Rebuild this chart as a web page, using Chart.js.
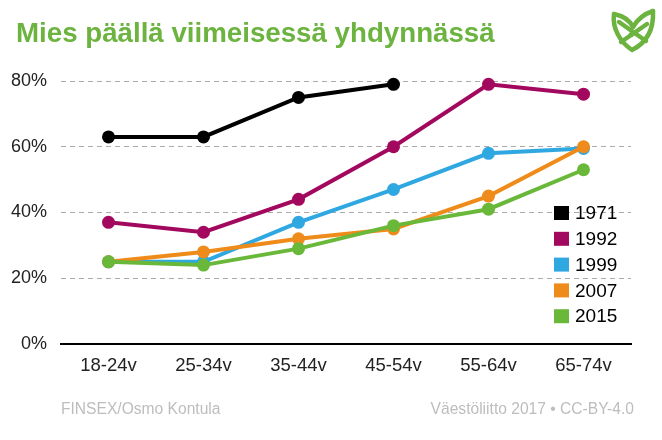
<!DOCTYPE html>
<html>
<head>
<meta charset="utf-8">
<script src="https://cdn.jsdelivr.net/npm/chart.js@4"></script>
<style>
  html, body { margin:0; padding:0; background:#fff; }
  #wrap { position:relative; width:662px; height:440px; overflow:hidden; font-family:"Liberation Sans", Arial, sans-serif; }
  #chart { position:absolute; left:0; top:0; }
  #title { position:absolute; left:16px; top:19px; font-size:27.7px; line-height:28px; font-weight:bold; color:#6cb33f; white-space:nowrap; }
  .foot { position:absolute; top:401px; font-size:15.6px; line-height:16px; color:#bdbdbd; white-space:nowrap; }
  #footL { left:61px; }
  #footR { right:28px; }
  #logo { position:absolute; left:600px; top:0px; }
</style>
</head>
<body>
<div id="wrap">
  <canvas id="chart" width="662" height="440"></canvas>
  <div id="title">Mies päällä viimeisessä yhdynnässä</div>
  <div class="foot" id="footL">FINSEX/Osmo Kontula</div>
  <div class="foot" id="footR">Väestöliitto 2017 • CC-BY-4.0</div>
  <svg id="logo" width="62" height="60" viewBox="0 0 62 60">
    <g fill="none" stroke="#6cb33f" stroke-width="4.5" stroke-linecap="round" stroke-linejoin="round">
      <path d="M14,14 C12,28 20,42 32,50 C44,44 54,32 53,11"/>
      <path d="M14,14 C24,16 30,21 33,27"/>
      <path d="M53,11 C44,14 37,20 33,27"/>
      <path d="M19,22 L46,41"/>
      <path d="M47,24 L21,42"/>
    </g>
    <rect x="29.5" y="31.5" width="5" height="5" fill="#6cb33f" transform="rotate(45 32 34)"/>
  </svg>
</div>
<script>
const categories = ['18-24v', '25-34v', '35-44v', '45-54v', '55-64v', '65-74v'];
const seriesLabels = ['1971', '1992', '1999', '2007', '2015'];
const v1971 = [63, 63, 75, 79, null, null];
const v1992 = [37, 34, 44, 60, 79, 76];
const v1999 = [25, 25, 37, 47, 58, 59.5];
const v2007 = [25, 28, 32, 35, 45, 60];
const v2015 = [25, 24, 29, 36, 41, 53];
const yTickValues = [0, 20, 40, 60, 80];
const colors = ['#000000', '#a3085f', '#2fa8e1', '#ef8b1a', '#6ab83a'];

const seriesValues = [v1971, v1992, v1999, v2007, v2015];

Chart.defaults.font.family = '"Liberation Sans", Arial, sans-serif';

const legendPlugin = {
  id: 'boxLegend',
  afterDraw(chart) {
    const ctx = chart.ctx;
    ctx.save();
    ctx.font = '19px "Liberation Sans", Arial, sans-serif';
    ctx.textBaseline = 'middle';
    ctx.textAlign = 'left';
    chart.data.datasets.forEach((ds, i) => {
      const y = 213 + i * 25.8;
      ctx.fillStyle = ds.borderColor;
      ctx.fillRect(554, y - 7, 15, 14);
      ctx.fillStyle = '#000';
      ctx.fillText(ds.label, 575, y + 1);
    });
    ctx.restore();
  }
};

new Chart(document.getElementById('chart'), {
  type: 'line',
  data: {
    labels: categories,
    datasets: seriesLabels.map((lab, i) => ({
      label: lab,
      data: seriesValues[i],
      borderColor: colors[i],
      backgroundColor: colors[i],
      pointBackgroundColor: colors[i],
      pointBorderWidth: 0,
      pointRadius: 6.5,
      pointHoverRadius: 6.5,
      borderWidth: 4,
      tension: 0,
      fill: false,
      clip: false,
      order: seriesLabels.length - i,
      spanGaps: false
    }))
  },
  options: {
    responsive: false,
    animation: false,
    layout: { padding: { left: 0, right: 31, top: 81, bottom: 66 } },
    plugins: {
      legend: { display: false },
      title: { display: false },
      tooltip: { enabled: false }
    },
    scales: {
      x: {
        offset: true,
        grid: { display: false, drawTicks: false },
        border: { display: true, color: '#000', width: 2 },
        ticks: { color: '#222', font: { size: 18.5 }, padding: 11, maxRotation: 0 },
        afterFit(s) { s.height = 30; }
      },
      y: {
        min: 0,
        max: 80,
        afterBuildTicks(s) { s.ticks = yTickValues.map(v => ({ value: v })); },
        grid: { color: '#aaaaaa', lineWidth: 1, drawTicks: false },
        border: { display: false, dash: [5, 4] },
        ticks: { color: '#222', font: { size: 18 }, padding: 14, callback: v => v + '%' },
        afterFit(s) { s.width = 61; }
      }
    }
  },
  plugins: [legendPlugin]
});
</script>
</body>
</html>
